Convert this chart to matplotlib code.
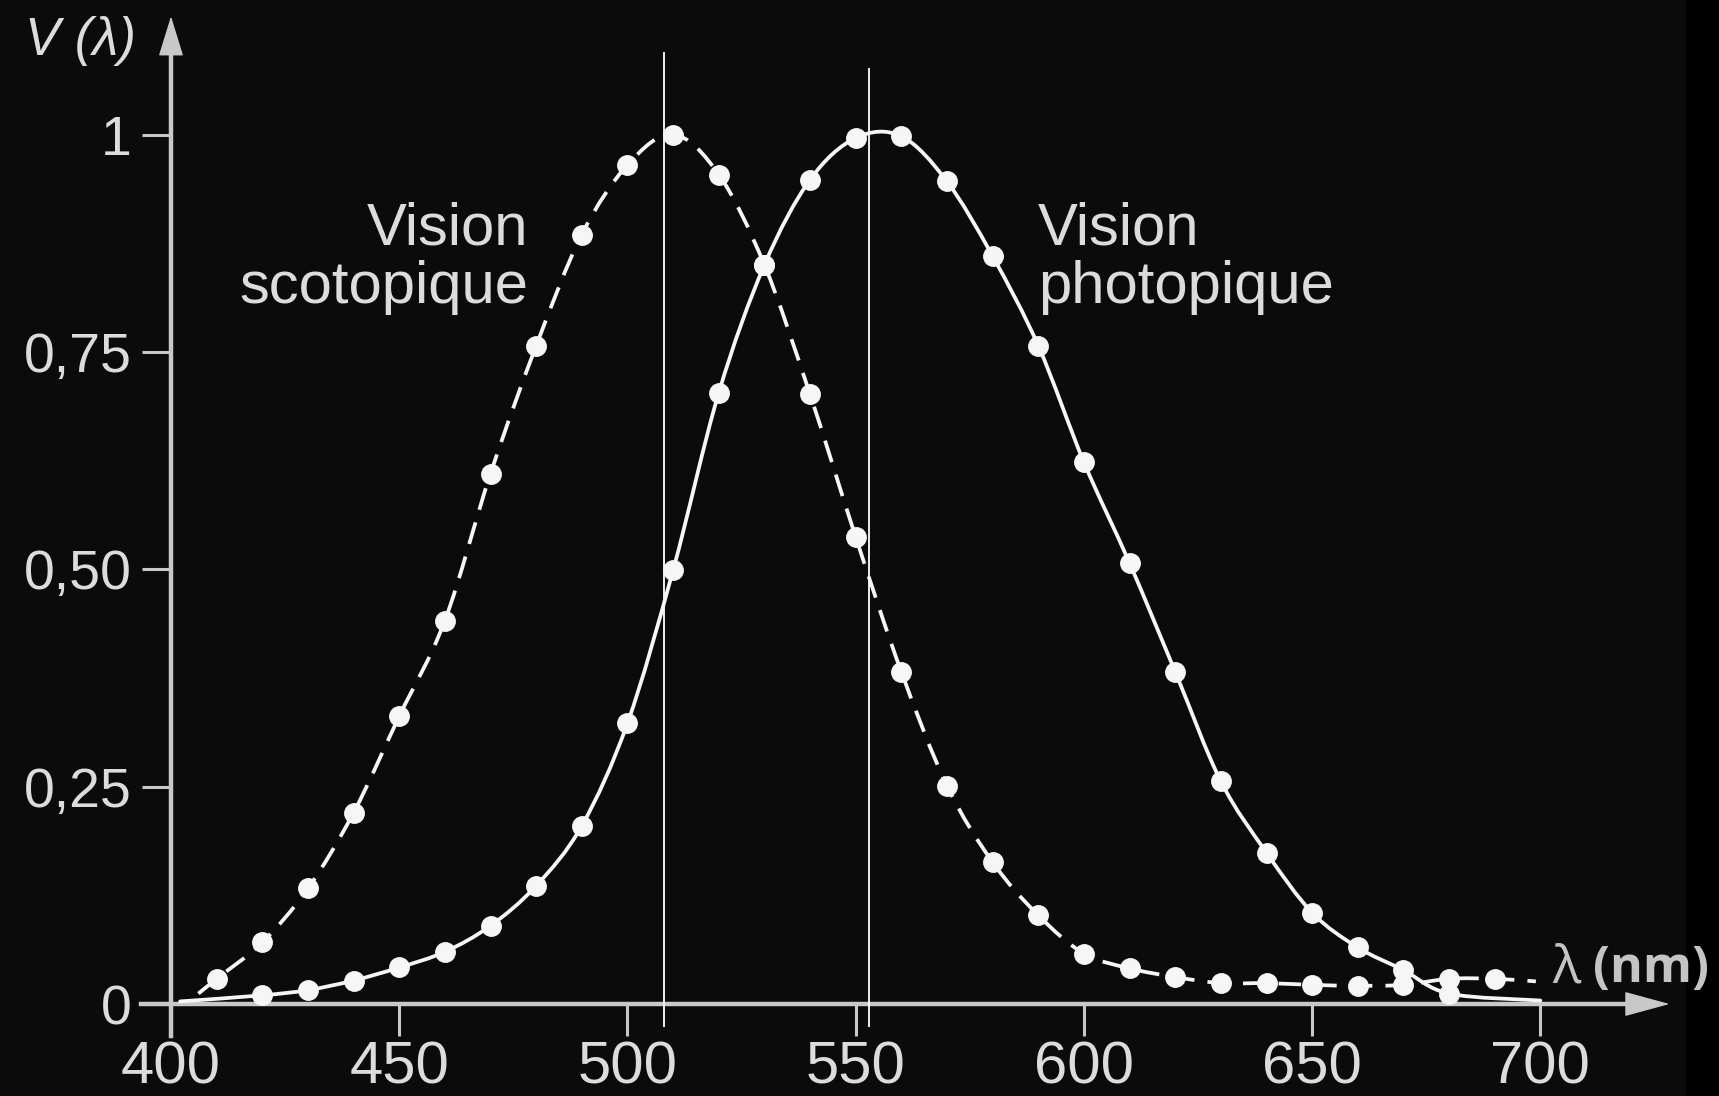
import numpy as np
import matplotlib
matplotlib.use('Agg')
import matplotlib.pyplot as plt
from matplotlib.path import Path
from matplotlib.patches import PathPatch, Rectangle

# Relative luminous efficiency V(lambda), read every 10 nm
photo_nm = list(range(420, 690, 10))
photo_v = [0.010, 0.016, 0.027, 0.042, 0.060, 0.090, 0.136, 0.205, 0.323,
           0.499, 0.703, 0.850, 0.948, 0.996, 0.998, 0.946, 0.860, 0.757, 0.623,
           0.507, 0.382, 0.256, 0.174, 0.105, 0.065, 0.039, 0.012]
photo_start = (402, 0.003)
photo_end = (700, 0.004)

scoto_nm = list(range(410, 700, 10))
scoto_v = [0.029, 0.071, 0.133, 0.220, 0.331, 0.441, 0.610, 0.757, 0.885, 0.965,
           1.000, 0.954, 0.850, 0.701, 0.537, 0.382, 0.251, 0.163, 0.102, 0.058,
           0.041, 0.031, 0.024, 0.024, 0.022, 0.021, 0.022, 0.029, 0.029]
scoto_start = (406, 0.012)
scoto_end = (699, 0.026)

# peak wavelengths marked by thin vertical lines
peak_nm = [508, 553]
peak_top = [1.095, 1.076]

x_ticks = [400, 450, 500, 550, 600, 650, 700]
y_ticks = [0, 0.25, 0.5, 0.75, 1]
y_labels = ['0', '0,25', '0,50', '0,75', '1']

BG = '#0b0b0b'
AXIS = '#c8c8c8'
TEXT = '#dcdcdc'
LINE = '#f6f6f6'

plt.rcParams['font.family'] = ['Liberation Sans', 'DejaVu Sans']


def smooth_path(xs, ys):
    """Catmull-Rom curve through the points, as cubic Bezier segments."""
    pts = np.column_stack([xs, ys]).astype(float)
    ext = np.vstack([pts[0], pts, pts[-1]])
    verts = [pts[0]]
    codes = [Path.MOVETO]
    for i in range(1, len(ext) - 2):
        p0, p1, p2, p3 = ext[i - 1], ext[i], ext[i + 1], ext[i + 2]
        verts += [p1 + (p2 - p0) / 6, p2 - (p3 - p1) / 6, p2]
        codes += [Path.CURVE4] * 3
    return Path(verts, codes)


fig = plt.figure(figsize=(17.19, 10.96), dpi=100, facecolor=BG)
ax = fig.add_axes([0, 0, 1, 1])
ax.set_facecolor(BG)
ax.set_xlim(362.54, 739.12)
ax.set_ylim(-0.1058, 1.1547)
ax.add_patch(Rectangle((1686 / 1719, 0), 1, 1, transform=ax.transAxes,
                       facecolor='black', edgecolor='none', zorder=0))

# axes through the origin, with arrow heads
for side in ('top', 'right'):
    ax.spines[side].set_visible(False)
ax.spines['left'].set_position(('data', 400))
ax.spines['bottom'].set_position(('data', 0))
ax.spines['left'].set_bounds(-0.037, 1.094)
ax.spines['bottom'].set_bounds(393.4, 719.5)
for side in ('left', 'bottom'):
    ax.spines[side].set_color(AXIS)
    ax.spines[side].set_linewidth(3.2)
    ax.spines[side].set_zorder(1)

ax.annotate('', xy=(400, 1.136), xytext=(400, 1.09),
            arrowprops=dict(arrowstyle='-|>,head_length=2.6,head_width=0.8',
                            mutation_scale=10, color=AXIS, lw=1,
                            shrinkA=0, shrinkB=0))
ax.annotate('', xy=(728.3, 0), xytext=(718.5, 0),
            arrowprops=dict(arrowstyle='-|>,head_length=2.95,head_width=0.8',
                            mutation_scale=10, color=AXIS, lw=1,
                            shrinkA=0, shrinkB=0))

ax.set_xticks(x_ticks)
ax.set_xticklabels([str(t) for t in x_ticks])
ax.set_yticks(y_ticks)
ax.set_yticklabels(y_labels)
ax.tick_params(axis='x', direction='out', length=23, width=2.2, color=AXIS,
               labelcolor=TEXT, labelsize=43, pad=3)
ax.tick_params(axis='y', direction='out', length=21, width=2.2, color=AXIS,
               labelcolor=TEXT, labelsize=40, pad=7)

# peak markers
ax.vlines(peak_nm, -0.026, peak_top, colors='white', linewidth=1.3, zorder=2)

# photopic curve (solid)
px = [photo_start[0]] + photo_nm + [photo_end[0]]
py = [photo_start[1]] + photo_v + [photo_end[1]]
ax.add_patch(PathPatch(smooth_path(px, py), fill=False, edgecolor=LINE,
                       linewidth=2.7, capstyle='round', zorder=3))
ax.plot(photo_nm, photo_v, 'o', color=LINE, markersize=14, zorder=4)

# scotopic curve (dashed)
sx = [scoto_start[0]] + scoto_nm + [scoto_end[0]]
sy = [scoto_start[1]] + scoto_v + [scoto_end[1]]
ax.add_patch(PathPatch(smooth_path(sx, sy), fill=False, edgecolor=LINE,
                       linewidth=2.7, linestyle=(0, (6, 3.5)), zorder=3))
ax.plot(scoto_nm, scoto_v, 'o', color=LINE, markersize=14, zorder=4)

# labels
ax.text(478.2, 0.873, 'Vision', ha='right', va='baseline', fontsize=43, color=TEXT)
ax.text(478.2, 0.806, 'scotopique', ha='right', va='baseline', fontsize=43, color=TEXT)
ax.text(589.9, 0.873, 'Vision', ha='left', va='baseline', fontsize=43, color=TEXT)
ax.text(589.9, 0.806, 'photopique', ha='left', va='baseline', fontsize=43, color=TEXT)

ax.text(368.0, 1.0914, 'V (λ)', ha='left', va='baseline', fontsize=38,
        style='italic', color=TEXT)
ax.text(702.5, 0.0253, 'λ', ha='left', va='baseline', fontsize=38,
        family=['Open Sans', 'DejaVu Sans'], color='#c4c4c4')
ax.text(711.5, 0.0253, '(nm)', ha='left', va='baseline', fontsize=36,
        family=['Open Sans', 'DejaVu Sans'], weight='bold', color='#c4c4c4')

fig.savefig('out.png', dpi=100, facecolor=fig.get_facecolor())
